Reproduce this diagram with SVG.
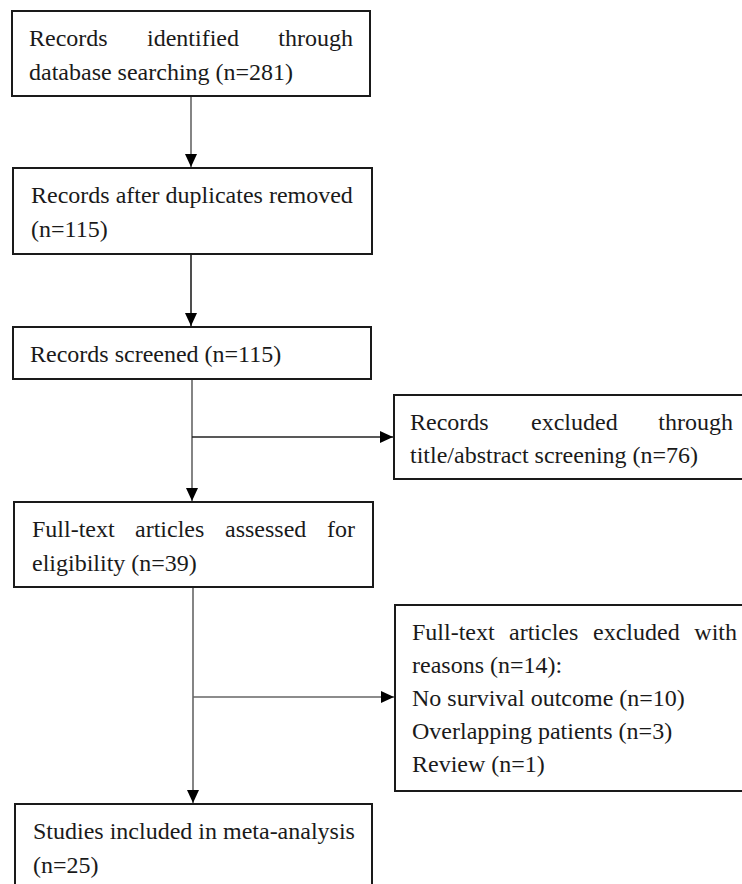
<svg xmlns="http://www.w3.org/2000/svg" width="742" height="884" viewBox="0 0 742 884">
<style>
.box{fill:#fff;stroke:#1a1a1a;stroke-width:2}
.t{font-family:"Liberation Serif","Times New Roman",serif;font-size:24px;fill:#1a1a1a}
.e{text-anchor:end}
.c{fill:none;stroke:#666;stroke-width:1.6}
.c2{fill:none;stroke:#222;stroke-width:1.6}
</style>
<defs>
<marker id="ah" markerUnits="userSpaceOnUse" markerWidth="14" markerHeight="14" viewBox="0 0 14 14" refX="13" refY="7" orient="auto">
<path d="M0,1 L13,7 L0,13 Z" fill="#000"/>
</marker>
</defs>
<rect width="742" height="884" fill="#fff"/>
<g id="connectors">
<line class="c" x1="191" y1="96" x2="191" y2="167" marker-end="url(#ah)"/>
<line class="c2" x1="191" y1="254" x2="191" y2="326" marker-end="url(#ah)"/>
<line class="c" x1="192" y1="379" x2="192" y2="501" marker-end="url(#ah)"/>
<line class="c2" x1="192" y1="437" x2="393" y2="437" marker-end="url(#ah)"/>
<line class="c" x1="193" y1="587" x2="193" y2="803" marker-end="url(#ah)"/>
<line class="c" x1="193" y1="697" x2="394" y2="697" marker-end="url(#ah)"/>
</g>
<g id="n1">
<rect class="box" x="12" y="11" width="358" height="85"/>
<text class="t" x="29" y="46">Records</text>
<text class="t" x="147" y="46">identified</text>
<text class="t e" x="353" y="46">through</text>
<text class="t" x="29" y="80">database searching (n=281)</text>
</g>
<g id="n2">
<rect class="box" x="13" y="168" width="359" height="86"/>
<text class="t" x="31" y="203">Records after duplicates removed</text>
<text class="t" x="31" y="237">(n=115)</text>
</g>
<g id="n3">
<rect class="box" x="13" y="327" width="358" height="52"/>
<text class="t" x="30" y="362">Records screened (n=115)</text>
</g>
<g id="n4">
<rect class="box" x="394" y="395" width="370" height="84"/>
<text class="t" x="410" y="430">Records</text>
<text class="t" x="531" y="430">excluded</text>
<text class="t e" x="733" y="430">through</text>
<text class="t" x="410" y="463">title/abstract screening (n=76)</text>
</g>
<g id="n5">
<rect class="box" x="14" y="502" width="359" height="85"/>
<text class="t" x="32" y="537">Full-text</text>
<text class="t" x="135" y="537">articles</text>
<text class="t" x="225" y="537">assessed</text>
<text class="t e" x="355" y="537">for</text>
<text class="t" x="32" y="571">eligibility (n=39)</text>
</g>
<g id="n6">
<rect class="box" x="395" y="605" width="370" height="186"/>
<text class="t" x="412" y="640">Full-text</text>
<text class="t" x="509" y="640">articles</text>
<text class="t" x="593" y="640">excluded</text>
<text class="t e" x="737" y="640">with</text>
<text class="t" x="412" y="673">reasons (n=14):</text>
<text class="t" x="412" y="706">No survival outcome (n=10)</text>
<text class="t" x="412" y="739">Overlapping patients (n=3)</text>
<text class="t" x="412" y="772">Review (n=1)</text>
</g>
<g id="n7">
<rect class="box" x="15" y="804" width="357" height="100"/>
<text class="t" x="33" y="839">Studies included in meta-analysis</text>
<text class="t" x="33" y="873">(n=25)</text>
</g>
</svg>
